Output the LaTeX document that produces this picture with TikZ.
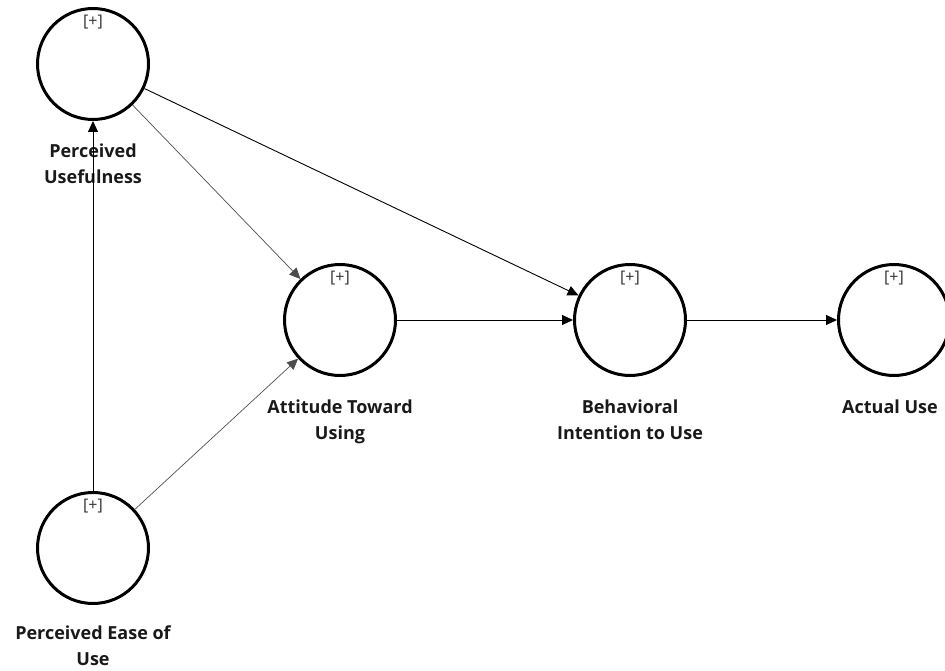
\documentclass[tikz,border=0pt]{standalone}
\usepackage{fontspec}
\setmainfont{Open Sans}
\usetikzlibrary{arrows.meta,positioning}
\tikzset{
  construct/.style={circle,draw,line width=3pt,minimum size=111pt,inner sep=0pt,
    label={[font=\fontsize{16}{18}\selectfont,text=black!80,anchor=north,yshift=-5pt]north:[+]}},
  caption/.style={font=\bfseries\fontsize{18}{26}\selectfont,align=center,text=black!90},
  path/.style={-{Triangle[length=11pt,width=10pt]},line width=0.9pt},
  thinpath/.style={path,draw=black!70,line width=0.7pt}
}
\begin{document}
\begin{tikzpicture}[x=1pt,y=-1pt]
  \useasboundingbox (0,0) rectangle (945,671);
  \clip (0,0) rectangle (945,671);

  \node[construct] (pu) at (93,64) {};
  \node[construct] (att) at (340,320) {};
  \node[construct] (bi) at (630,320) {};
  \node[construct] (use) at (894,320) {};
  \node[construct] (peou) at (93,548) {};

  \node[caption,below=19pt of pu] {Perceived\\Usefulness};
  \node[caption,below=19pt of att] {Attitude Toward\\Using};
  \node[caption,below=19pt of bi] {Behavioral\\Intention to Use};
  \node[caption,below=19pt of use,xshift=-4pt] {Actual Use};
  \node[caption,below=17pt of peou] {Perceived Ease of\\Use};

  \draw[path] (peou) -- (pu);
  \draw[thinpath] (peou) -- (att);
  \draw[thinpath] (pu) -- (att);
  \draw[path] (pu) -- (bi);
  \draw[path] (att) -- (bi);
  \draw[path] (bi) -- (use);
\end{tikzpicture}
\end{document}
